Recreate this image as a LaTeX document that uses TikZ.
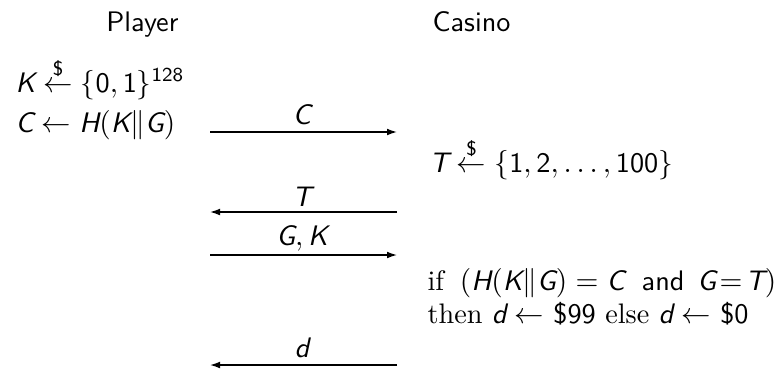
\documentclass[tikz,border=0pt]{standalone}
\usepackage{amsmath}
\usetikzlibrary{arrows.meta}
\renewcommand{\familydefault}{\sfdefault}
\newcommand{\iv}[1]{\mathord{\textsf{\slshape #1}}}
\newcommand{\sfd}[1]{\textsf{#1}}
\newcommand{\rnd}{\mathrel{\overset{\textsf{\$}}{\leftarrow}}}
\tikzset{
  msg/.style={line width=0.45pt,-{Latex[length=3.4pt,width=2.3pt]}},
  lbl/.style={anchor=base,inner sep=0pt},
  txt/.style={anchor=base west,inner sep=0pt},
  head/.style={inner sep=0pt}
}
\begin{document}
\begin{tikzpicture}[x=0.34pt,y=-0.34pt,font=\fontsize{9.6}{11.5}\selectfont]
\useasboundingbox (0,0) rectangle (777,371);
\node[head,anchor=base east] (player) at (179,31) {Player};
\node[head,anchor=base west] (casino) at (432,31) {Casino};
\node[txt] (kgen) at (15,92) {$\iv{K}\rnd\{\sfd{0},\sfd{1}\}^{\sfd{128}}$};
\node[txt] (cgen) at (15,132) {$\iv{C}\leftarrow\iv{H}(\iv{K}\|\iv{G})$};
\node[txt] (tgen) at (429,172) {$\iv{T}\rnd\{\sfd{1},\sfd{2},\ldots,\sfd{100}\}$};
\node[txt] (check) at (427,290) {{\rmfamily if}\hspace{5.4pt}$(\iv{H}(\iv{K}\|\iv{G}) = \iv{C}$\hspace{5.8pt}and\hspace{4.4pt}$\iv{G}\!=\!\iv{T})$};
\node[txt] (decide) at (427,323) {{\rmfamily then} $\iv{d}\leftarrow$ \$99 {\rmfamily else} $\iv{d}\leftarrow$ \$0};
% arrows
\coordinate (c1) at (210,132); \coordinate (c2) at (397,132);
\coordinate (t1) at (397,212); \coordinate (t2) at (210,212);
\coordinate (g1) at (210,255); \coordinate (g2) at (397,255);
\coordinate (d1) at (397,365); \coordinate (d2) at (210,365);
\draw[msg] (c1) -- (c2);
\draw[msg] (t1) -- (t2);
\draw[msg] (g1) -- (g2);
\draw[msg] (d1) -- (d2);
\node[lbl] (lc) at (302,124) {$\iv{C}$};
\node[lbl] (lt) at (302,206) {$\iv{T}$};
\node[lbl] (lg) at (302,245) {$\iv{G},\iv{K}$};
\node[lbl] (ld) at (302,357) {$\iv{d}$};
\end{tikzpicture}
\end{document}
